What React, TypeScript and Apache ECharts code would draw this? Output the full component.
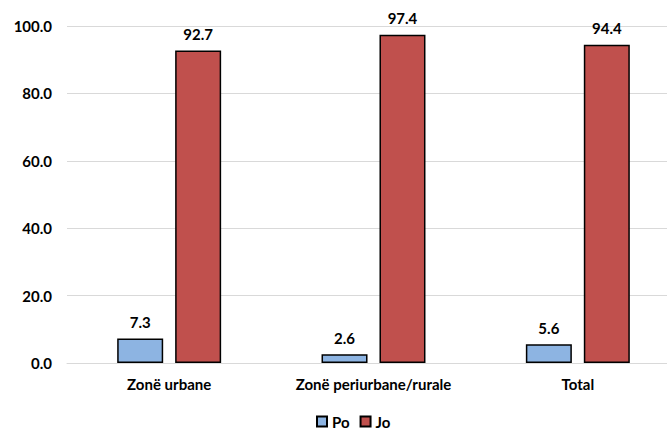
import React, { useEffect, useRef } from "react";
import * as echarts from "echarts";

const categories = ["Zonë urbane", "Zonë periurbane/rurale", "Total"];
const poValues = [7.3, 2.6, 5.6];
const joValues = [92.7, 97.4, 94.4];
const seriesNames = ["Po", "Jo"];

const FONT = "Lato";

export default function App() {
  const ref = useRef<HTMLDivElement>(null);
  useEffect(() => {
    if (!ref.current) return;
    const chart = echarts.init(ref.current, undefined, { renderer: "svg" });
    const label = {
      show: true,
      position: "top",
      distance: 9,
      fontFamily: FONT,
      fontWeight: "bold",
      fontSize: 15,
      color: "#000",
      formatter: (p: any) => Number(p.value).toFixed(1),
    };
    chart.setOption({
      animation: false,
      textStyle: { fontFamily: FONT },
      grid: { left: 67, top: 26, height: 337, width: 613 },
      legend: {
        top: 414,
        left: 316,
        padding: 0,
        itemWidth: 10,
        itemHeight: 10,
        itemGap: 10,
        icon: "rect",
        textStyle: { fontFamily: FONT, fontWeight: "bold", fontSize: 15, color: "#000" },
        data: seriesNames,
      },
      xAxis: {
        type: "category",
        data: categories,
        axisLine: { show: true, lineStyle: { color: "#d9d9d9", width: 1 } },
        axisTick: { show: false },
        axisLabel: {
          interval: 0,
          margin: 13,
          fontFamily: FONT,
          fontWeight: "bold",
          fontSize: 15,
          color: "#000",
        },
      },
      yAxis: {
        type: "value",
        min: 0,
        max: 100,
        interval: 20,
        axisLine: { show: false },
        axisTick: { show: false },
        splitLine: { lineStyle: { color: "#d9d9d9", width: 1 } },
        axisLabel: {
          margin: 15,
          fontFamily: FONT,
          fontWeight: "bold",
          fontSize: 15,
          color: "#000",
          formatter: (v: number) => v.toFixed(1),
        },
      },
      series: [
        {
          name: seriesNames[0],
          type: "bar",
          data: poValues,
          barWidth: 46,
          barGap: "26%",
          itemStyle: { color: "#8DB4E2", borderColor: "#000", borderWidth: 1.5 },
          label,
        },
        {
          name: seriesNames[1],
          type: "bar",
          data: joValues,
          barWidth: 46,
          barGap: "26%",
          itemStyle: { color: "#C0504D", borderColor: "#000", borderWidth: 1.5 },
          label,
        },
      ],
    });
    return () => chart.dispose();
  }, []);
  return (
    <div style={{ width: 667, height: 435, position: "absolute", left: 0, top: 0, overflow: "hidden" }}>
      <div ref={ref} style={{ width: 690, height: 435 }} />
    </div>
  );
}
